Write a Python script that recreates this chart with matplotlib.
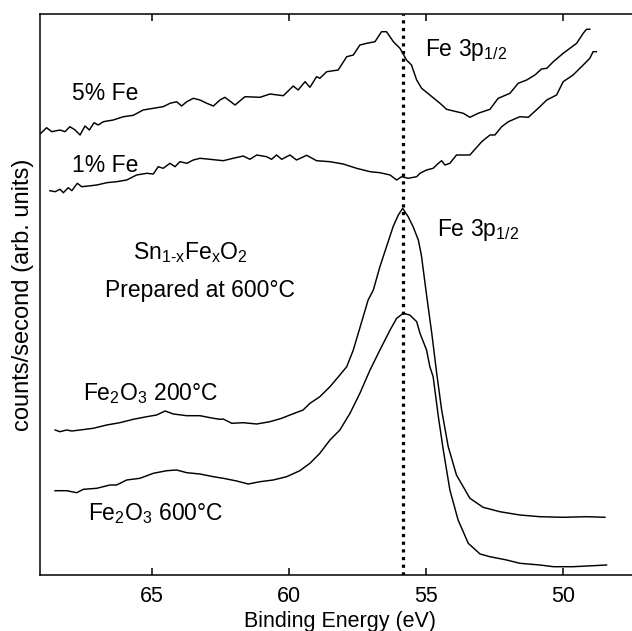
import matplotlib
matplotlib.use("Agg")
import matplotlib.pyplot as plt

plt.rcParams['font.family'] = ['Liberation Sans', 'DejaVu Sans']
plt.rcParams['mathtext.fontset'] = 'custom'
plt.rcParams['mathtext.rm'] = 'Liberation Sans'
plt.rcParams['mathtext.it'] = 'Liberation Sans:italic'
plt.rcParams['mathtext.default'] = 'regular'

# 5% Fe spectrum (binding energy in eV, counts arb. units)
fe5_e = [69.04, 68.83, 68.64, 68.34, 68.16, 67.98, 67.79, 67.61, 67.43, 67.27,
         67.10, 66.95, 66.76, 66.40, 66.03, 65.67, 65.31, 64.94, 64.58, 64.33,
         64.09, 63.91, 63.72, 63.48, 63.24, 62.99, 62.75, 62.51, 62.33, 61.96,
         61.60, 61.05, 60.69, 60.20, 59.84, 59.66, 59.41, 59.23, 58.99, 58.87,
         58.62, 58.20, 57.89, 57.65, 57.41, 57.16, 56.86, 56.62, 56.44, 56.19,
         55.95, 55.71, 55.53, 55.34, 55.16, 54.86, 54.49, 54.25, 53.89, 53.64,
         53.40, 53.10, 52.67, 52.37, 51.94, 51.64, 51.33, 51.03, 50.79, 50.60,
         50.36, 50.00, 49.51, 49.27, 49.15, 49.03]
fe5_c = [497.7, 503.3, 499.3, 501.0, 499.3, 504.3, 501.0, 496.0, 505.0, 501.0,
         508.3, 506.0, 509.3, 511.0, 514.3, 515.7, 521.0, 522.7, 524.3, 527.7,
         529.3, 525.0, 529.3, 532.7, 531.0, 527.7, 525.0, 531.0, 533.7, 526.0,
         534.3, 533.7, 537.0, 535.3, 545.0, 541.0, 549.3, 543.7, 554.3, 552.7,
         559.3, 561.0, 574.3, 576.0, 586.0, 587.7, 589.3, 599.3, 599.3, 589.3,
         582.7, 571.0, 566.0, 551.0, 542.7, 536.0, 527.7, 521.7, 519.3, 517.7,
         513.7, 517.7, 521.7, 532.7, 537.7, 547.7, 551.0, 556.0, 562.0, 562.7,
         569.3, 577.7, 587.7, 597.7, 601.7, 601.7]

# 1% Fe spectrum
fe1_e = [68.71, 68.52, 68.34, 68.22, 68.04, 67.91, 67.71, 67.55, 67.31, 67.00,
         66.64, 66.28, 65.91, 65.55, 65.18, 64.94, 64.76, 64.58, 64.33, 64.15,
         63.97, 63.72, 63.48, 63.24, 62.88, 62.39, 62.03, 61.66, 61.42, 61.17,
         60.81, 60.63, 60.45, 60.26, 59.96, 59.72, 59.35, 58.99, 58.50, 58.02,
         57.53, 57.04, 56.68, 56.31, 56.07, 55.89, 55.65, 55.34, 55.22, 54.98,
         54.74, 54.55, 54.43, 54.31, 54.13, 53.89, 53.40, 52.97, 52.67, 52.49,
         52.24, 52.00, 51.58, 51.27, 50.85, 50.60, 50.24, 50.00, 49.64, 49.27,
         49.03, 48.91, 48.79]
fe1_c = [440.3, 439.3, 441.7, 438.3, 443.3, 440.3, 447.7, 444.3, 445.0, 446.0,
         448.3, 449.3, 451.0, 456.0, 457.7, 457.0, 464.3, 462.7, 467.7, 464.3,
         469.3, 467.7, 471.0, 472.7, 471.7, 470.3, 472.7, 475.0, 471.7, 476.0,
         474.3, 471.7, 476.0, 471.7, 476.0, 471.0, 475.7, 470.3, 469.3, 467.0,
         462.7, 459.3, 458.3, 456.0, 451.0, 454.3, 452.7, 454.3, 457.7, 461.0,
         462.7, 467.7, 470.3, 466.0, 467.7, 476.0, 476.0, 489.3, 496.0, 496.0,
         504.3, 509.3, 514.3, 513.7, 524.3, 531.0, 536.0, 549.3, 556.0, 566.0,
         572.7, 579.3, 579.3]

# Fe2O3 annealed at 200 C
ox200_e = [68.52, 68.34, 68.10, 67.91, 67.61, 67.13, 66.64, 66.16, 65.67, 65.18,
           64.82, 64.51, 64.21, 63.72, 63.24, 62.75, 62.51, 62.39, 62.08, 61.66,
           61.17, 60.69, 60.26, 59.96, 59.48, 59.23, 58.87, 58.50, 58.14, 57.89,
           57.65, 57.47, 57.29, 57.11, 56.92, 56.68, 56.44, 56.20, 56.01, 55.85,
           55.65, 55.47, 55.28, 55.17, 54.98, 54.79, 54.61, 54.43, 54.19, 53.89,
           53.40, 52.92, 52.31, 51.58, 50.85, 50.00, 49.15, 48.48]
ox200_c = [201.0, 199.3, 201.0, 200.0, 201.0, 202.7, 206.0, 208.3, 211.7, 214.3,
           216.0, 220.0, 217.0, 215.3, 215.3, 212.7, 211.7, 212.0, 207.7, 208.3,
           207.0, 209.3, 212.7, 216.0, 221.0, 227.7, 234.3, 244.3, 256.0, 264.3,
           281.0, 297.7, 314.3, 331.0, 341.0, 364.3, 384.3, 404.3, 416.0, 422.7,
           414.3, 404.3, 391.0, 376.0, 336.0, 297.7, 257.7, 221.0, 184.3, 156.0,
           132.7, 123.7, 119.3, 116.0, 114.3, 113.7, 114.3, 113.7]

# Fe2O3 annealed at 600 C
ox600_e = [68.52, 68.10, 67.73, 67.49, 67.00, 66.52, 66.28, 65.91, 65.43, 64.94,
           64.45, 64.09, 63.72, 63.24, 62.75, 62.39, 61.90, 61.48, 61.05, 60.57,
           60.08, 59.60, 59.23, 58.87, 58.50, 58.14, 57.77, 57.41, 57.04, 56.68,
           56.31, 56.07, 55.83, 55.59, 55.34, 55.22, 54.98, 54.86, 54.74, 54.55,
           54.37, 54.13, 53.83, 53.46, 53.03, 52.67, 52.06, 51.58, 50.85, 50.36,
           49.64, 48.91, 48.42]
ox600_c = [140.3, 140.3, 138.3, 141.7, 142.7, 146.0, 146.0, 151.0, 152.7, 157.7,
           160.3, 161.0, 158.3, 157.0, 154.3, 152.7, 150.0, 147.0, 149.3, 151.0,
           154.3, 160.3, 167.7, 177.7, 191.0, 201.0, 217.7, 237.7, 261.0, 281.0,
           301.0, 312.7, 317.7, 316.0, 309.3, 297.7, 281.0, 264.3, 254.3, 214.3,
           181.0, 141.0, 111.0, 87.7, 77.0, 74.3, 71.0, 67.7, 66.0, 64.3,
           64.3, 65.3, 66.0]

peak_e = 55.83
xticks = [65, 60, 55, 50]

fig = plt.figure(figsize=(6.32, 6.31), dpi=100)
ax = fig.add_axes([40 / 632, 55.7 / 631, 600 / 632, 561.3 / 631])

lw = 1.05
ax.plot(fe5_e, fe5_c, color='black', lw=lw)
ax.plot(fe1_e, fe1_c, color='black', lw=lw)
ax.plot(ox200_e, ox200_c, color='black', lw=lw)
ax.plot(ox600_e, ox600_c, color='black', lw=lw)
ax.axvline(peak_e, color='black', lw=2.3, linestyle=(0, (1, 1.4)),
           dash_capstyle='butt')

ax.set_xlim(69.07, 47.20)
ax.set_ylim(55.7, 617)
ax.set_xticks(xticks)
ax.set_yticks([])
ax.tick_params(axis='x', direction='in', length=5, width=1.1, top=True,
               labelsize=15.5, pad=8)
for side in ['left', 'bottom', 'top']:
    ax.spines[side].set_linewidth(1.1)
ax.spines['right'].set_visible(False)

ax.set_xlabel('Binding Energy (eV)', fontsize=15.5, labelpad=2.5)
ax.set_ylabel('counts/second (arb. units)', fontsize=17, labelpad=4)

fs = 16.5
ax.text(67.92, 538, '5% Fe', fontsize=fs, va='center', ha='left')
ax.text(67.92, 466, '1% Fe', fontsize=fs, va='center', ha='left')
ax.text(55.04, 581, r'Fe 3p$_{1/2}$', fontsize=fs, va='center', ha='left')
ax.text(54.61, 401, r'Fe 3p$_{1/2}$', fontsize=fs, va='center', ha='left')
ax.text(65.67, 378, r'Sn$_{1\text{-}x}$Fe$_x$O$_2$', fontsize=fs,
        va='center', ha='left')
ax.text(66.70, 341, 'Prepared at 600°C', fontsize=fs, va='center', ha='left')
ax.text(67.51, 237.7, r'Fe$_2$O$_3$ 200°C', fontsize=fs, va='center', ha='left')
ax.text(67.31, 117.7, r'Fe$_2$O$_3$ 600°C', fontsize=fs, va='center', ha='left')

fig.savefig('out.png', dpi=100)
